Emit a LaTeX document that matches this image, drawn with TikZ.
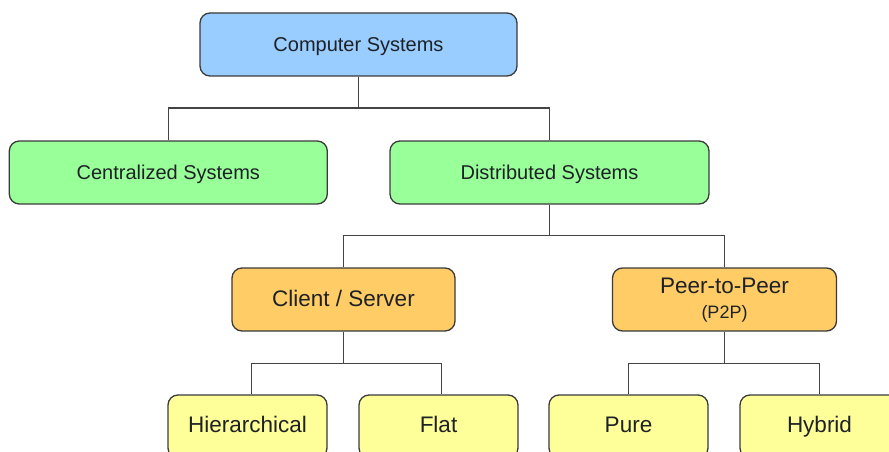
\documentclass[tikz,border=0pt]{standalone}
\usepackage{fontspec}
\setmainfont{Liberation Sans}
\usetikzlibrary{calc}
\begin{document}
\begin{tikzpicture}[x=1pt,y=-1pt,
  box/.style={draw=boxline, line width=1.3pt, rounded corners=10pt,
    minimum width=#1, minimum height=63pt, inner sep=0pt,
    text height=15.5pt, text depth=1pt,
    text=labeltext, font=\fontsize{20}{24}\selectfont},
  lowbox/.style={box=#1, font=\fontsize{22.5}{27}\selectfont,
    text height=16pt, text depth=1.6pt},
  leafbox/.style={lowbox=159pt, fill=cyellow, text height=14pt},
  link/.style={draw=linkgray, line width=1.5pt}]
\definecolor{boxline}{HTML}{3A3A3A}
\definecolor{linkgray}{HTML}{444444}
\definecolor{labeltext}{HTML}{1E2126}
\definecolor{cblue}{HTML}{99CCFF}
\definecolor{cgreen}{HTML}{99FF99}
\definecolor{corange}{HTML}{FFCC66}
\definecolor{cyellow}{HTML}{FFFF99}
\useasboundingbox (0,0) rectangle (889,452);

% level 0
\node[box=317pt, fill=cblue] (comp) at (358.5,44.5) {Computer Systems};
% level 1
\node[box=318pt, fill=cgreen] (cent) at (168.3,172.5) {Centralized Systems};
\node[box=319pt, fill=cgreen] (dist) at (549.5,172.5) {Distributed Systems};
% level 2
\node[lowbox=223pt, fill=corange] (cs) at (343.5,299.5) {Client / Server};
\node[lowbox=224pt, fill=corange, text height=12pt, text depth=23.6pt,
  label={[text=labeltext, font=\fontsize{18}{21}\selectfont,
          yshift=-14pt]center:(P2P)}] (p2p) at (724.5,299.5) {Peer-to-Peer};
% level 3
\node[leafbox] (hier) at (247.5,426.5) {Hierarchical};
\node[leafbox] (flat) at (438.5,426.5) {Flat};
\node[leafbox] (pure) at (628.5,426.5) {Pure};
\node[leafbox] (hyb) at (819.5,426.5) {Hybrid};

% junction points of the tree
\coordinate (j0) at ($(comp.south)+(0,31.5)$);
\coordinate (j1) at ($(dist.south)+(0,31)$);
\coordinate (j2) at ($(cs.south)+(0,32)$);
\coordinate (j3) at ($(p2p.south)+(0,32)$);

% connectors
\draw[link] (comp.south) -- (j0);
\draw[link] (cent.north) |- (j0) -| (dist.north);
\draw[link] (dist.south) -- (j1);
\draw[link] (cs.north) |- (j1) -| (p2p.north);
\draw[link] (cs.south) -- (j2);
\draw[link] ([xshift=4pt]hier.north) |- (j2) -| ([xshift=3pt]flat.north);
\draw[link] (p2p.south) -- (j3);
\draw[link] (pure.north) |- (j3) -| (hyb.north);
\end{tikzpicture}
\end{document}
